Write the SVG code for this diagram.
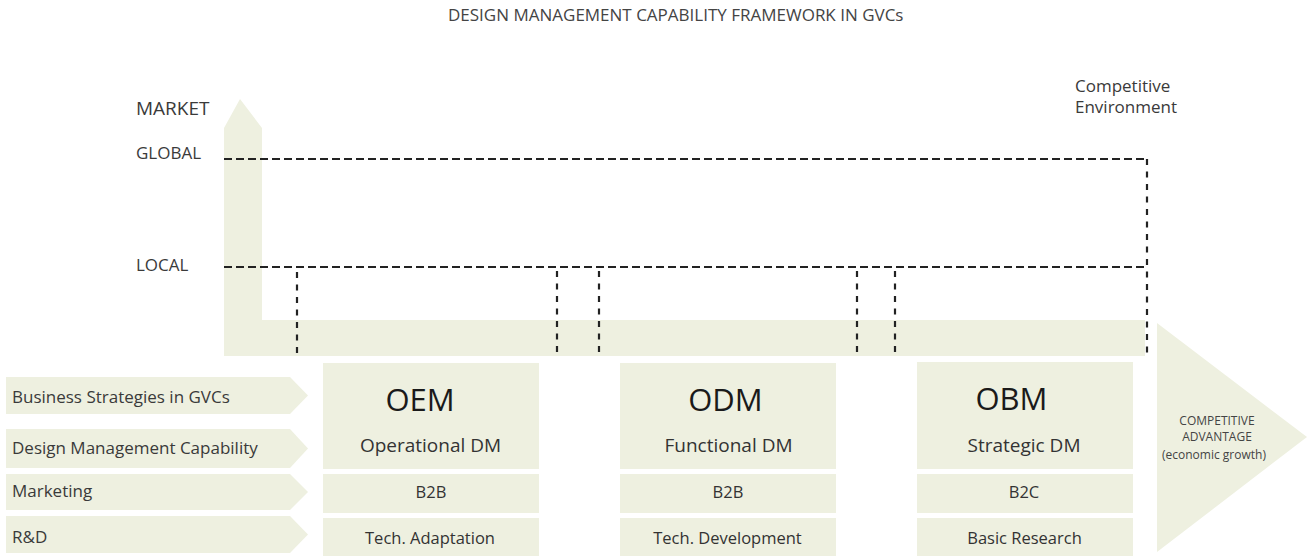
<svg xmlns="http://www.w3.org/2000/svg" width="1312" height="557" viewBox="0 0 1312 557">
  <style>
    .fill { fill: #eef0e0; }
    text { font-family: "Open Sans", "Liberation Sans", sans-serif; fill: #333; }
    .title { font-size: 17px; fill: #444; }
    .axis { font-size: 17px; fill: #3a3a3a; }
    .row { font-size: 17px; fill: #3a3a3a; }
    .big { font-size: 31px; fill: #1a1a1a; text-anchor: middle; }
    .mid { font-size: 19px; fill: #333; text-anchor: middle; }
    .small { font-size: 16.5px; fill: #333; text-anchor: middle; }
    .adv { font-size: 12px; fill: #444; text-anchor: middle; }
    .dh { stroke: #222; stroke-width: 2.2; stroke-dasharray: 8 4; fill: none; }
    .dv { stroke: #222; stroke-width: 2.2; stroke-dasharray: 6 6.5; fill: none; }
  </style>

  <text class="title" x="448" y="21">DESIGN MANAGEMENT CAPABILITY FRAMEWORK IN GVCs</text>

  <g id="axes">
    <polygon class="fill" points="224,128 240,99 262,128 262,320 1145,320 1145,356 224,356"/>
    <text class="axis" x="136" y="115" font-size="19" style="font-size:19px">MARKET</text>
    <text class="axis" x="136" y="159">GLOBAL</text>
    <text class="axis" x="136" y="271">LOCAL</text>
  </g>

  <g id="competitive-environment">
    <text class="axis" x="1075" y="92">Competitive</text>
    <text class="axis" x="1075" y="113">Environment</text>
  </g>

  <g id="competitive-advantage">
    <polygon class="fill" points="1157,323 1307,437 1157,552"/>
    <text class="adv" x="1217" y="425">COMPETITIVE</text>
    <text class="adv" x="1217" y="441">ADVANTAGE</text>
    <text class="adv" x="1214" y="459">(economic growth)</text>
  </g>

  <g id="row-business">
    <polygon class="fill" points="6,377 290,377 308,395.5 290,414 6,414"/>
    <text class="row" x="12" y="403">Business Strategies in GVCs</text>
  </g>
  <g id="row-dm">
    <polygon class="fill" points="6,429 290,429 308,448.5 290,468 6,468"/>
    <text class="row" x="12" y="454">Design Management Capability</text>
  </g>
  <g id="row-marketing">
    <polygon class="fill" points="6,474 290,474 308,492 290,510 6,510"/>
    <text class="row" x="12" y="497">Marketing</text>
  </g>
  <g id="row-rd">
    <polygon class="fill" points="6,516 290,516 308,534.5 290,553 6,553"/>
    <text class="row" x="12" y="543">R&amp;D</text>
  </g>

  <g id="oem">
    <rect class="fill" x="323" y="363" width="216" height="106"/>
    <rect class="fill" x="323" y="474" width="216" height="39"/>
    <rect class="fill" x="323" y="518" width="216" height="38"/>
    <text class="big" x="420" y="411">OEM</text>
    <text class="mid" x="430.5" y="452">Operational DM</text>
    <text class="small" x="431" y="498">B2B</text>
    <text class="small" x="430" y="544">Tech. Adaptation</text>
  </g>

  <g id="odm">
    <rect class="fill" x="620" y="363" width="216" height="106"/>
    <rect class="fill" x="620" y="474" width="216" height="39"/>
    <rect class="fill" x="620" y="518" width="216" height="38"/>
    <text class="big" x="725.5" y="411">ODM</text>
    <text class="mid" x="728.5" y="452">Functional DM</text>
    <text class="small" x="728" y="498">B2B</text>
    <text class="small" x="727.5" y="544">Tech. Development</text>
  </g>

  <g id="obm">
    <rect class="fill" x="917" y="362" width="216" height="107"/>
    <rect class="fill" x="917" y="474" width="216" height="39"/>
    <rect class="fill" x="917" y="518" width="216" height="38"/>
    <text class="big" x="1011.5" y="410">OBM</text>
    <text class="mid" x="1024" y="452">Strategic DM</text>
    <text class="small" x="1024" y="498">B2C</text>
    <text class="small" x="1024.5" y="544">Basic Research</text>
  </g>

  <g id="connectors">
    <path class="dh" d="M224,159 H1147"/>
    <path class="dh" d="M224,267 H1147"/>
    <path class="dv" d="M1147,159 V356"/>
    <path class="dv" d="M297,272 V356"/>
    <path class="dv" d="M557,271 V356"/>
    <path class="dv" d="M599,271 V356"/>
    <path class="dv" d="M857,271 V356"/>
    <path class="dv" d="M895,271 V356"/>
  </g>
</svg>
